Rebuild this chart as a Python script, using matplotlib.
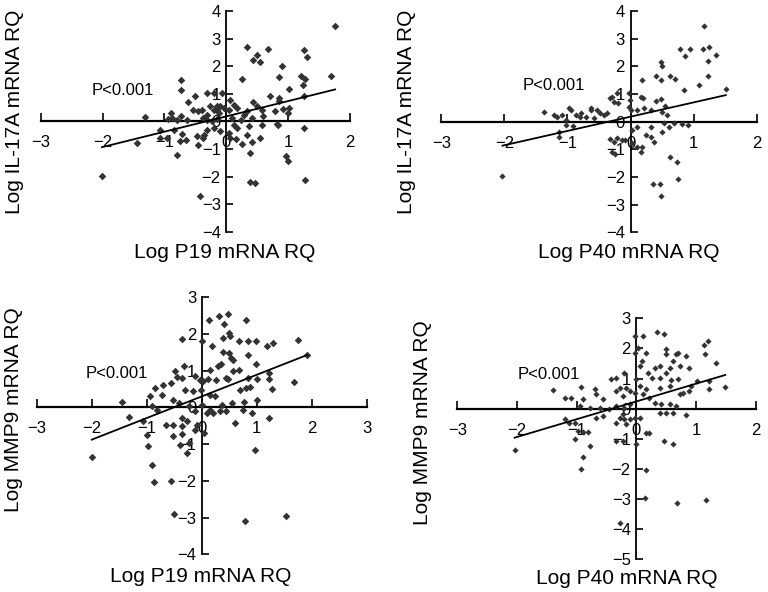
import numpy as np
import matplotlib
matplotlib.use("Agg")
import matplotlib.pyplot as plt

plt.rcParams['font.family'] = ['Liberation Sans', 'DejaVu Sans']

# IL-17A vs P19
p19_x = [1.76, 0.33, 0.68, 1.25, 1.31, 0.50, 0.44, 0.55, 0.90, 0.26, 0.85, 1.20, 1.28, 1.69, 1.24,
         1.01, 0.71, 0.85, 0.86, 1.25, -0.20, -0.07, 0.06, 0.04, -0.10, -0.15, 0.12, 0.17, 0.44, 0.49,
         0.58, 0.60, 0.78, 0.92, 1.02, 0.99, 0.33, 0.28, 0.41, 0.23, 0.09, -0.31, -0.37, 0.82, 0.84,
         0.58, 0.36, 0.17, 0.12, 1.25, 0.04, -0.36, 0.06, 0.15, 0.25, 0.41, 0.55, 0.33, 0.38, 0.97,
         1.00, 0.38, 0.46, 1.28, -0.74, -0.73, -1.31, -0.62, -0.50, -0.31, -0.53, -0.45, -0.39, -0.26,
         -0.20, -0.15, -0.04, -0.12, -0.90, -0.88, -0.95, -0.80, -0.74, -0.64, -0.31, -0.23, -0.15,
         -1.07, -1.07, -0.96, -0.85, -0.75, -0.65, -0.72, -0.80, -1.45, -0.47, -0.45, -0.37, -0.31,
         -0.20, -0.10, -2.01, -0.43]
il17_p19_y = [3.47, 2.68, 2.63, 2.60, 2.33, 2.39, 2.21, 2.15, 1.99, 1.53, 1.59, 1.63, 1.53, 1.63, 1.32,
              1.17, 0.91, 0.85, 0.73, 0.91, 1.03, 1.03, 0.79, 0.42, 0.54, 0.42, 0.60, 0.48, 0.69, 0.57,
              0.42, 0.18, 0.36, 0.45, 0.48, 0.30, 0.36, 0.24, 0.12, 0.06, 0.12, 0.24, 0.12, -0.10, -0.14,
              -0.12, -0.18, -0.24, -0.12, -0.24, -0.42, -0.48, -0.60, -0.64, -0.81, -0.76, -0.60, -0.48, -1.15, -1.27,
              -1.45, -2.21, -2.23, -2.11, 1.49, 1.12, 0.16, 0.69, 0.91, 1.03, 0.42, 0.36, 0.42, 0.54,
              0.42, 0.54, 0.48, 0.30, 0.30, 0.12, 0.10, 0.06, 0.18, 0.06, 0.06, 0.00, 0.08,
              -0.30, -0.60, -0.60, -0.30, -0.72, -0.66, -0.45, -1.21, -0.79, -0.54, -0.85, -0.60, -0.30,
              -0.24, -0.36, -1.97, -2.69]

# IL-17A vs P40
p40_x = [1.16, 0.79, 0.94, 1.15, 1.24, 0.86, 1.35, 1.23, 0.49, 0.50, 1.23, 0.18, 0.41, 0.49, 0.63,
         0.71, 1.08, 0.85, 1.51, -0.21, -0.03, -0.30, -0.26, 0.16, 0.20, 0.40, 0.48, 0.55, -0.01, -0.03,
         0.01, 0.11, 0.21, 0.32, 0.50, 0.58, -1.37, -1.22, -1.16, -1.08, -0.98, -0.95, -0.87, -0.79,
         -0.71, -0.63, -0.53, -0.48, -0.42, -0.58, -1.03, -1.14, -1.14, -1.03, -0.92, -0.32, -0.26,
         -0.21, -0.29, -0.24, -0.08, 0.03, 0.11, 0.16, 0.18, 0.24, 0.32, 0.37, 0.11, 0.03, 0.32, 0.50,
         0.61, 0.69, 0.82, 0.91, 0.53, 0.62, 0.73, 0.76, 0.36, 0.46, 0.49, -2.03, -0.33, -0.20, -0.62,
         -0.80, -0.38, -0.14]
il17_p40_y = [3.47, 2.61, 2.61, 2.61, 2.71, 2.37, 2.41, 2.20, 2.17, 2.01, 1.65, 1.51, 1.65, 1.51, 1.65,
              1.53, 1.33, 1.14, 1.17, 1.05, 1.05, 0.90, 0.72, 0.90, 0.87, 0.75, 0.81, 0.57, 0.78, 0.54,
              0.42, 0.42, 0.48, 0.42, 0.36, 0.24, 0.36, 0.24, 0.18, 0.24, 0.48, 0.42, 0.24, 0.30,
              0.18, 0.48, 0.42, 0.30, 0.24, 0.12, 0.06, -0.36, -0.54, -0.12, -0.16, -0.64, -0.72,
              -0.60, -1.08, -1.17, -0.66, -0.78, -0.90, -1.08, -0.90, -0.48, -0.54, -0.72, -0.18, -0.30, -0.18, -0.36,
              -0.18, -0.06, -0.08, -0.12, -0.06, -1.27, -1.45, -2.08, -2.25, -2.25, -2.69, -1.96, 0.84, 0.66, 0.42,
              0.18, 0.30, -0.66]

# MMP9 vs P19
p19_x_mmp = [0.48, 0.32, 0.14, 0.81, 0.41, 0.50, 0.52, 0.38, 0.00, -0.35, 0.18, 0.68, 0.84, 0.98, 1.18,
             1.29, 1.75, 1.92, 0.38, 0.50, 0.53, 0.56, 0.84, 0.99, 0.35, 0.30, 0.15, 0.68, 0.56, -0.33,
             -0.48, -0.12, -0.36, -0.45, -0.04, 0.02, 0.12, 0.26, 0.45, 0.48, 0.85, 1.00, 1.23, 1.23,
             1.68, -0.85, -0.71, -0.55, -0.73, -0.94, -0.30, -0.15, -0.01, 0.15, 0.24, 0.70, 0.81, 0.87,
             1.27, 1.00, 0.76, 0.36, 0.15, 0.00, -1.45, -0.91, -0.82, -0.52, -0.42, -0.24, -0.12, 0.09,
             0.21, 0.33, 0.45, 0.55, 0.75, 0.91, 1.23, 0.61, -1.32, -1.07, -1.00, -0.65, -0.53, -0.36,
             -0.27, -0.36, -0.53, -0.36, -0.24, -0.39, -0.27, -0.09, 0.04, -0.12, -0.98, -0.91, -0.87,
             -0.55, -0.50, 0.97, 0.79, 1.53, -2.00]
mmp9_p19_y = [2.55, 2.48, 2.39, 2.39, 2.27, 2.03, 1.94, 1.89, 1.80, 1.86, 1.68, 1.80, 1.80, 1.80, 1.68,
              1.75, 1.85, 1.44, 1.50, 1.48, 1.35, 1.28, 1.44, 1.19, 1.19, 1.14, 1.03, 1.03, 0.98, 1.12,
              0.98, 0.86, 0.80, 0.83, 0.75, 0.71, 0.77, 0.75, 0.80, 0.77, 0.80, 0.77, 0.94, 0.77,
              0.68, 0.53, 0.62, 0.66, 0.35, 0.30, 0.48, 0.44, 0.48, 0.35, 0.30, 0.48, 0.53, 0.57,
              0.50, 0.21, 0.16, 0.07, -0.06, 0.07, 0.14, 0.03, -0.06, 0.21, 0.12, 0.03, -0.11, -0.15,
              -0.15, -0.11, -0.11, 0.12, -0.06, -0.14, -0.29, -0.43, -0.26, -0.36, -0.76, -0.47, -0.47, -0.29,
              -0.38, -0.50, -0.79, -0.72, -0.97, -1.02, -1.25, -0.47, -0.70, -0.61, -1.05, -1.56, -2.02,
              -1.99, -2.90, -1.15, -3.09, -2.95, -1.34]

# MMP9 vs P40
p40_x_mmp = [-0.03, 0.11, 0.35, 0.46, -0.03, 0.03, 0.17, 0.10, 0.06, 0.49, 0.50, 0.66, 0.70, 0.84, 1.13,
             1.20, 1.15, 1.34, 0.31, 0.39, 0.56, 0.61, 0.73, 0.20, 0.27, 0.39, 0.50, 0.58, 0.70, 0.89,
             -0.20, -0.34, -0.42, 0.00, 0.06, 0.17, 0.39, 0.56, 0.73, 0.78, 0.89, 0.92, 1.01, 1.22,
             1.22, 1.49, -1.40, -1.20, -1.09, -0.93, -0.89, -0.70, -0.67, -0.56, -0.34, -0.28, -0.22,
             -0.17, -0.11, -0.03, 0.11, 0.22, 0.31, 0.42, 0.56, 0.67, -0.95, -0.78, -0.61, -0.45, -0.34,
             -0.20, -0.11, -1.20, -1.12, -1.02, -0.98, -0.89, -0.81, -1.02, -0.78, -0.89, -0.92, -0.67,
             -0.56, -0.34, -0.28, -0.22, -0.20, -0.11, -0.17, -0.03, 0.06, -0.34, -0.23, 0.00, 0.17, 0.22,
             0.47, 0.61, 0.83, 0.17, 0.14, 0.68, 1.17, -0.28, -2.04, 0.39, 0.50, 0.61]
mmp9_p40_y = [2.41, 2.41, 2.54, 2.47, 1.86, 2.02, 1.86, 1.58, 1.42, 1.97, 1.80, 1.80, 1.84, 1.75, 2.13,
              2.25, 1.80, 1.53, 1.36, 1.42, 1.36, 1.58, 1.42, 1.19, 1.03, 1.03, 1.19, 0.94, 0.97, 1.36,
              1.19, 1.01, 0.97, 0.97, 0.75, 0.64, 0.70, 0.75, 0.48, 0.53, 0.59, 0.75, 0.92, 0.92,
              0.66, 0.73, 0.61, 0.34, 0.34, 0.72, 0.31, 0.64, 0.50, 0.31, 0.59, 0.70, 0.42,
              0.70, 0.59, 0.53, 0.48, 0.37, 0.20, 0.14, 0.14, 0.09, 0.09, 0.03, 0.03, -0.02, 0.09,
              0.03, 0.14, -0.35, -0.46, -0.46, -0.74, -0.77, -0.77, -1.02, -1.24, -1.60, -2.01, -0.30,
              -0.24, -0.46, -0.30, -0.19, -0.35, -0.35, -0.52, -0.30, -0.30, -1.07, -1.07, -1.18, -0.80, -0.80,
              -1.07, -1.18, -0.21, -2.05, -2.95, -3.14, -3.03, -3.78, -1.38, -0.13, -0.13, -0.13]

# fitted lines: (slope, intercept)
fits = [(0.555, 0.18), (0.516, 0.18), (0.589, 0.30), (0.59, 0.24)]

panels = [
    dict(x=p19_x, y=il17_p19_y, xlim=(-3, 2), ylim=(-4, 4), xt=range(-3, 3), yt=range(-4, 5),
         rect=(40.7, 11, 350, 231.7), ms=15, p=(-1.67, 1.12),
         ylab="Log IL-17A mRNA RQ", ylab_xy=(15, 112), xlab="Log P19 mRNA RQ", xlab_xy=(225, 252)),
    dict(x=p40_x, y=il17_p40_y, xlim=(-3, 2), ylim=(-4, 4), xt=range(-3, 3), yt=range(-4, 5),
         rect=(441.3, 11, 756.7, 232.3), ms=10, p=(-1.22, 1.29),
         ylab="Log IL-17A mRNA RQ", ylab_xy=(407, 112), xlab="Log P40 mRNA RQ", xlab_xy=(629, 252)),
    dict(x=p19_x_mmp, y=mmp9_p19_y, xlim=(-3, 3), ylim=(-4, 3), xt=range(-3, 4), yt=range(-4, 4),
         rect=(36.7, 297.3, 366.7, 554.3), ms=15, p=(-1.55, 0.92),
         ylab="Log MMP9 mRNA RQ", ylab_xy=(14, 410), xlab="Log P19 mRNA RQ", xlab_xy=(201, 576)),
    dict(x=p40_x_mmp, y=mmp9_p40_y, xlim=(-3, 2), ylim=(-5, 3), xt=range(-3, 3), yt=range(-5, 4),
         rect=(457.3, 318.3, 755.7, 559.3), ms=10, p=(-1.46, 1.15),
         ylab="Log MMP9 mRNA RQ", ylab_xy=(422, 423), xlab="Log P40 mRNA RQ", xlab_xy=(627, 579)),
]

W, H = 768, 592
fig = plt.figure(figsize=(7.68, 5.92), dpi=100, facecolor='white')

for pan, (slope, icpt) in zip(panels, fits):
    x0, y0, x1, y1 = pan['rect']
    ax = fig.add_axes([x0 / W, 1 - y1 / H, (x1 - x0) / W, (y1 - y0) / H])
    ax.set_facecolor('none')
    x = np.array(pan['x'])
    y = np.array(pan['y'])
    ax.scatter(x, y, marker='D', s=pan['ms'], color='#333333', linewidths=0, zorder=3, clip_on=False)

    xs = np.array([x.min(), x.max()])
    ax.plot(xs, slope * xs + icpt, color='black', lw=1.3, zorder=4)

    ax.set_xlim(*pan['xlim'])
    ax.set_ylim(*pan['ylim'])
    ax.set_xticks(list(pan['xt']))
    ax.set_yticks(list(pan['yt']))

    ax.spines['left'].set_position(('data', 0))
    ax.spines['bottom'].set_position(('data', 0))
    ax.spines['top'].set_visible(False)
    ax.spines['right'].set_visible(False)
    ax.spines['left'].set_linewidth(1.3)
    ax.spines['bottom'].set_linewidth(1.6)

    ax.tick_params(axis='x', direction='in', length=6, width=1.2, pad=10, labelsize=12)
    ax.tick_params(axis='y', direction='in', length=5, width=1.2, pad=4, labelsize=12)

    ax.text(pan['p'][0], pan['p'][1], "P<0.001", fontsize=12, ha='center', va='center')

    fig.text(pan['ylab_xy'][0] / W, 1 - pan['ylab_xy'][1] / H, pan['ylab'],
             rotation=90, fontsize=15, ha='center', va='center')
    fig.text(pan['xlab_xy'][0] / W, 1 - pan['xlab_xy'][1] / H, pan['xlab'],
             fontsize=15, ha='center', va='center')

fig.savefig("out.png", dpi=100)
